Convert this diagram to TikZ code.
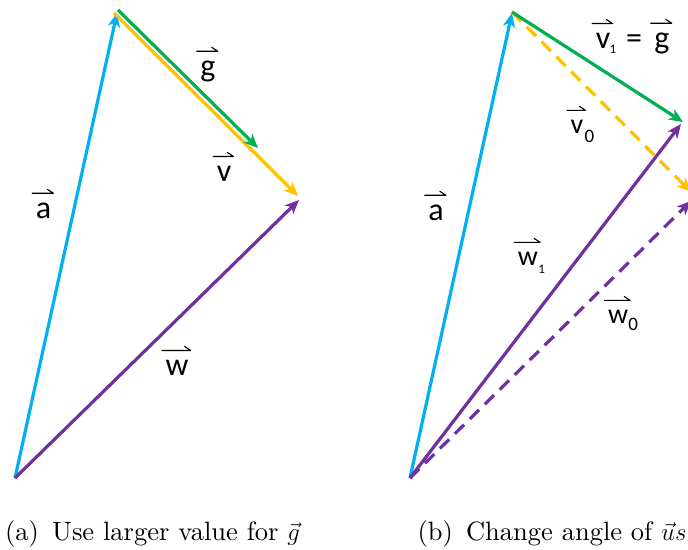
\documentclass[tikz,border=0pt]{standalone}
\usepackage{fontspec}
\usepackage{amsmath}
\newfontfamily\calfont{Carlito}
\newfontfamily\capfont{lmroman10-regular}[Extension=.otf]
\usetikzlibrary{arrows.meta}
\definecolor{vblue}{RGB}{0,176,240}
\definecolor{vgreen}{RGB}{0,176,80}
\definecolor{vyellow}{RGB}{255,192,0}
\definecolor{vpurple}{RGB}{112,48,160}
\newcommand{\harpover}[1]{\draw[harpst] ([xshift=-3.5pt,yshift=9pt]#1.north west) -- ([xshift=2pt,yshift=9pt]#1.north east) -- ++(-6pt,4pt);}
\begin{document}
\begin{tikzpicture}[x=1pt,y=-1pt,
  vec/.style={line width=3.2pt,-{Stealth[length=14pt,width=12pt,inset=4pt]}},
  dsh/.style={dash pattern=on 13pt off 8pt},
  lbl/.style={font=\calfont\fontsize{32}{36}\selectfont,inner sep=0pt,anchor=base},
  lbs/.style={font=\calfont\fontsize{28}{32}\selectfont,inner sep=0pt,anchor=base},
  subs/.style={font=\calfont\fontsize{13}{15}\selectfont,inner sep=0pt,anchor=base west},
  subb/.style={font=\calfont\fontsize{19}{21}\selectfont,inner sep=0pt,anchor=base west},
  harpst/.style={line width=1.1pt,line cap=round,line join=round},
  captxt/.style={font=\capfont\fontsize{26.5}{30}\selectfont,inner sep=0pt,anchor=base}]
\useasboundingbox (0,0) rectangle (688,549);
% ---------- left panel ----------
\coordinate (O1) at (15,478);
\coordinate (A1) at (117,13);
\coordinate (Y1s) at (114,13);
\coordinate (Y1e) at (298,196);
\coordinate (G1s) at (118,10);
\coordinate (G1e) at (258,148);
\coordinate (W1e) at (299,200);
\draw[vec,vblue] (O1) -- (A1);
\draw[vec,vyellow] (Y1s) -- (Y1e);
\draw[vec,vgreen] (G1s) -- (G1e);
\draw[vec,vpurple] (O1) -- (W1e);
\node[lbl] (la) at (43.5,218) {a};
\node[lbl] (lg) at (208,76) {g};
\node[lbl] (lv) at (224,181) {v};
\node[lbl] (lw) at (177,375) {w};
\harpover{la}
\harpover{lg}
\harpover{lv}
\harpover{lw}
\node[captxt] (capa) at (152.5,540) {(a)\, Use larger value for $\vec{g}$};
% ---------- right panel ----------
\coordinate (O2) at (410,478);
\coordinate (A2) at (512,13);
\coordinate (S2) at (512,12);
\coordinate (G2e) at (683,122);
\coordinate (Y2e) at (691,192);
\coordinate (W2e) at (681,124);
\coordinate (W0e) at (691,201);
\draw[vec,vblue] (O2) -- (A2);
\draw[vec,vpurple] (O2) -- (W2e);
\draw[vec,vpurple,dsh] (O2) -- (W0e);
\draw[vec,vyellow,dsh] (S2) -- (Y2e);
\draw[vec,vgreen] (S2) -- (G2e);
\node[lbl] (ra) at (436,220) {a};
\node[lbl] (rv1) at (603,48) {v};
\node[subs] (rv1s) at ([yshift=-5pt,xshift=-1pt]rv1.base east) {1};
\node[lbl,anchor=center] (req) at (634,42) {=};
\node[lbl] (rg) at (662,48) {g};
\node[lbs] (rv0) at (577,133) {v};
\node[subb] (rv0s) at ([yshift=-9pt,xshift=1pt]rv0.base east) {0};
\node[lbs] (rw1) at (528,265) {w};
\node[subs] (rw1s) at ([yshift=-8pt]rw1.base east) {1};
\node[lbs] (rw0) at (618,323) {w};
\node[subb] (rw0s) at ([yshift=-7pt]rw0.base east) {0};
\harpover{ra}
\harpover{rv1}
\harpover{rg}
\harpover{rv0}
\harpover{rw1}
\harpover{rw0}
\node[captxt] (capb) at (552,540) {(b)\, Change angle of $\vec{u}s$};
\end{tikzpicture}
\end{document}
